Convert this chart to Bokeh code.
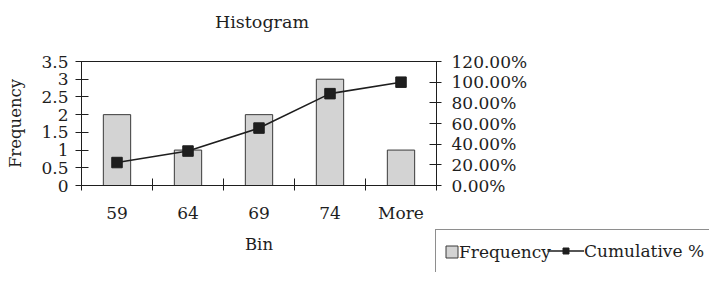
import numpy as np
from bokeh.plotting import figure
from bokeh.models import (Range1d, LinearAxis, FixedTicker, CustomJSTickFormatter,
                          NumeralTickFormatter, Legend, LegendItem)
from bokeh.embed import file_html
from bokeh.resources import INLINE

# ---- data ----
bins = ["59", "64", "69", "74", "More"]
frequency = [2, 1, 2, 3, 1]
cumulative_pct = [0.2222, 0.3333, 0.5556, 0.8889, 1.0]
freq_ticks = [0, 0.5, 1, 1.5, 2, 2.5, 3, 3.5]
pct_ticks = [0, 0.2, 0.4, 0.6, 0.8, 1.0, 1.2]
title_text = "Histogram"

FONT = "DejaVu Serif"
INK = "#1e1e1e"
BAR_FILL = "#d3d3d3"
BAR_LINE = "#3a3a3a"

xpos = list(np.arange(len(bins)) + 0.5)

p = figure(width=715, height=283, output_backend="svg", toolbar_location=None,
           x_range=Range1d(0, len(bins)), y_range=Range1d(0, 3.5),
           min_border_left=81, min_border_right=279, min_border_top=61, min_border_bottom=98,
           x_axis_type=None, y_axis_type=None, title_location=None)
p.extra_y_ranges = {"pct": Range1d(0, 1.2)}
p.grid.visible = False
p.outline_line_color = INK
p.outline_line_width = 1
p.background_fill_color = "white"
p.border_fill_color = "white"

bars = p.vbar(x=xpos, top=frequency, width=0.385, fill_color=BAR_FILL,
              line_color=BAR_LINE, line_width=1)
line = p.line(x=xpos, y=cumulative_pct, y_range_name="pct", line_color=INK, line_width=1.6)
marks = p.scatter(x=xpos, y=cumulative_pct, y_range_name="pct", marker="square", size=10.5,
                  fill_color=INK, line_color=INK)

def style(ax, tin, tout, standoff):
    ax.axis_line_color = INK
    ax.major_tick_line_color = INK
    ax.major_tick_in = tin
    ax.major_tick_out = tout
    ax.minor_tick_line_color = None
    ax.major_label_text_font = FONT
    ax.major_label_text_font_size = "17px"
    ax.major_label_text_color = INK
    ax.major_label_standoff = standoff
    ax.axis_label_text_font = FONT
    ax.axis_label_text_font_size = "16.5px"
    ax.axis_label_text_font_style = "normal"
    ax.axis_label_text_color = INK

# bottom axis: labels at bin centres, ticks at bin boundaries (minor ticks)
xa = LinearAxis(ticker=FixedTicker(ticks=xpos, minor_ticks=list(range(len(bins) + 1))),
                formatter=CustomJSTickFormatter(args=dict(labels=bins),
                                                code="return labels[Math.round(tick - 0.5)]"),
                axis_label="Bin")
style(xa, 0, 0, 12)
xa.major_tick_line_color = None
xa.minor_tick_line_color = INK
xa.minor_tick_in = 7
xa.minor_tick_out = 5
xa.axis_label_standoff = 9
p.add_layout(xa, "below")

ya = LinearAxis(ticker=FixedTicker(ticks=freq_ticks),
                formatter=CustomJSTickFormatter(code="return String(tick)"),
                axis_label="Frequency")
style(ya, 7, 6, 7)
ya.axis_label_standoff = 13
p.add_layout(ya, "left")

ya2 = LinearAxis(y_range_name="pct", ticker=FixedTicker(ticks=pct_ticks),
                 formatter=NumeralTickFormatter(format="0.00%"))
style(ya2, 7, 5, 10)
p.add_layout(ya2, "right")

# ---- title, drawn in a small overlay figure at the top ----
tf = figure(width=355, height=36, output_backend="svg", toolbar_location=None,
            title=title_text, min_border=0, x_axis_type=None, y_axis_type=None)
tf.grid.visible = False
tf.outline_line_color = None
tf.background_fill_color = "white"
tf.border_fill_color = "white"
tf.title.align = "center"
tf.title.standoff = 0
tf.title.text_font = FONT
tf.title.text_font_size = "17.5px"
tf.title.text_font_style = "normal"
tf.title.text_color = INK
tf.styles = {"position": "absolute", "left": "84px", "top": "9px"}

# ---- legend box, drawn in a small overlay figure at the bottom right ----
lg = figure(width=275, height=44, output_backend="svg", toolbar_location=None,
            x_range=Range1d(-3, -2), y_range=Range1d(-3, -2), min_border=0,
            x_axis_type=None, y_axis_type=None)
lg.grid.visible = False
lg.outline_line_color = None
lg.background_fill_color = "white"
lg.border_fill_color = "white"
lb = lg.vbar(x=xpos, top=frequency, width=0.385, fill_color=BAR_FILL,
             line_color=BAR_LINE, line_width=1)
ll = lg.line(x=xpos, y=cumulative_pct, line_color=INK, line_width=1.6)
ls = lg.scatter(x=xpos, y=cumulative_pct, marker="square", size=10.5,
                fill_color=INK, line_color=INK)

common = dict(orientation="horizontal", label_text_font=FONT, label_text_font_size="17px",
              label_text_color=INK, glyph_height=15, label_standoff=0, padding=8,
              margin=1, label_height=27)
# box + first item (box runs past the right edge, as in the original)
legend_a = Legend(items=[LegendItem(label="Frequency", renderers=[lb])],
                  location="top_left", glyph_width=15, label_width=250,
                  border_line_color=INK, border_line_width=1,
                  background_fill_alpha=1.0, **common)
# second item with a wider line glyph, no box of its own
legend_b = Legend(items=[LegendItem(label="Cumulative %", renderers=[ll, ls])],
                  location=(113, 8), glyph_width=37,
                  border_line_color=None, background_fill_alpha=0.0, **common)
lg.add_layout(legend_a, "center")
lg.add_layout(legend_b, "center")
lg.styles = {"position": "absolute", "left": "434px", "top": "228px"}

open("out.html", "w").write(file_html([p, tf, lg], INLINE))
